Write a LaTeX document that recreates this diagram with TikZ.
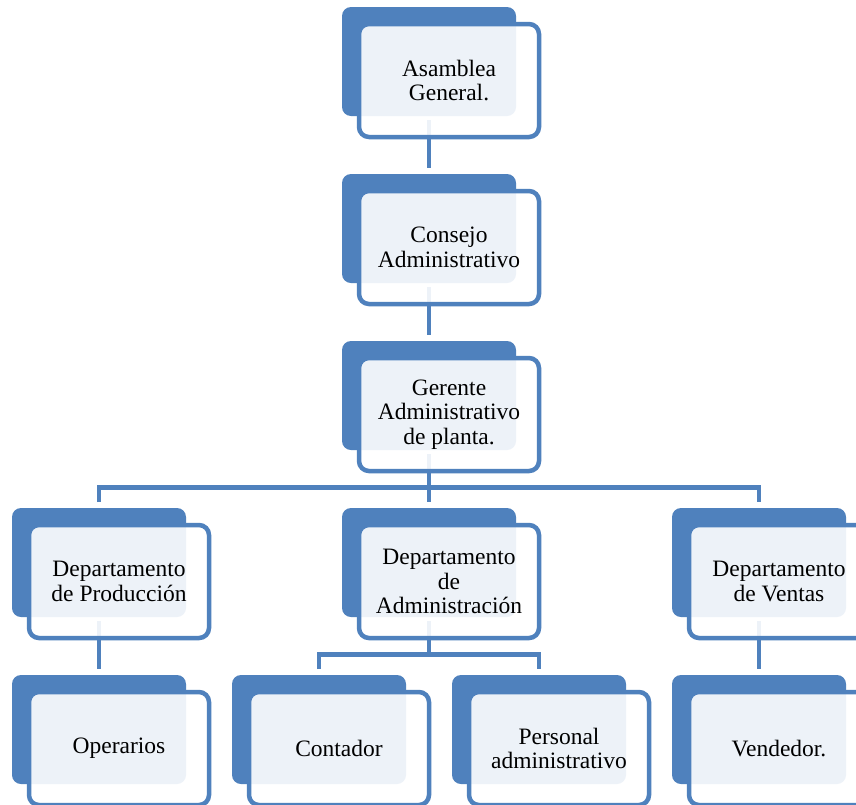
\documentclass[tikz,border=0pt]{standalone}
\usepackage{fontspec}
\setmainfont{Liberation Serif}
\definecolor{orgblue}{HTML}{4F81BD}
\pgfdeclarelayer{bg}
\pgfsetlayers{bg,main}
\tikzset{
  backbox/.style={fill=orgblue, rounded corners=9pt, minimum width=174pt,
    minimum height=109pt, inner sep=0pt, outer sep=0pt},
  frontbox/.style={draw=orgblue, line width=4.5pt, fill=white, fill opacity=0.9,
    text opacity=1, rounded corners=10pt, minimum width=180pt, minimum height=113pt,
    inner sep=0pt, outer sep=0pt, align=center,
    font=\fontsize{23.5}{24.5}\selectfont},
  link/.style={draw=orgblue, line width=4.5pt, line join=miter}
}
% one chart unit: solid back card plus translucent front card with the label
\newcommand\orgunit[4]{%
  \node[backbox] (b-#1) at (#2+87, #3+54.5) {};
  \node[frontbox] (#1) at (#2+107, #3+73.5) {#4};
}
\begin{document}
\begin{tikzpicture}[x=1pt, y=-1pt]
\clip (0,0) rectangle (856,804);

\orgunit{asm}{342}{7}{Asamblea\\General.}
\orgunit{con}{342}{174}{Consejo\\Administrativo}
\orgunit{ger}{342}{341}{Gerente\\Administrativo\\de planta.}
\orgunit{pro}{12}{508}{Departamento\\de Producción}
\orgunit{adm}{342}{508}{Departamento\\de\\Administración}
\orgunit{ven}{672}{508}{Departamento\\de Ventas}
\orgunit{ope}{12}{675}{Operarios}
\orgunit{cont}{232}{675}{Contador}
\orgunit{pers}{452}{675}{Personal\\administrativo}
\orgunit{vend}{672}{675}{Vendedor.}

\begin{pgfonlayer}{bg}
  \fill[white] (0,0) rectangle (856,804);
  \coordinate (bus1) at ([yshift=20.5pt]b-pro.north);
  \coordinate (bus2) at ([yshift=20.5pt]b-cont.north);
  \draw[link] ([yshift=-4pt]b-asm.south) -- ([yshift=6pt]b-con.north);
  \draw[link] ([yshift=-4pt]b-con.south) -- ([yshift=6pt]b-ger.north);
  \draw[link] ([yshift=-4pt]b-ger.south) -- ([yshift=6pt]b-adm.north);
  \draw[link] ([yshift=6pt]b-pro.north) -- (bus1) -- (b-ven.north |- bus1)
              -- ([yshift=6pt]b-ven.north);
  \draw[link] ([yshift=-4pt]b-adm.south) -- (b-adm.south |- bus2);
  \draw[link] ([yshift=6pt]b-cont.north) -- (bus2) -- (b-pers.north |- bus2)
              -- ([yshift=6pt]b-pers.north);
  \draw[link] ([yshift=-4pt]b-pro.south) -- ([yshift=6pt]b-ope.north);
  \draw[link] ([yshift=-4pt]b-ven.south) -- ([yshift=6pt]b-vend.north);
\end{pgfonlayer}
\end{tikzpicture}
\end{document}
